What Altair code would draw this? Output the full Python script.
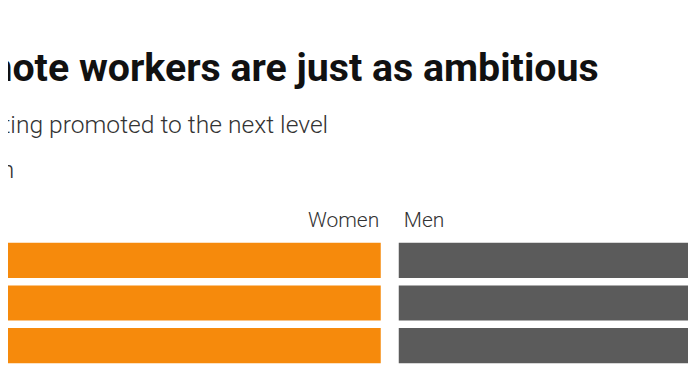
import altair as alt
import pandas as pd

# Data (bars run past both edges of the crop; values estimated)
categories = ["Fully remote", "Hybrid", "On-site"]
women_values = [72, 70, 73]
men_values = [71, 69, 72]
group_labels = ["Women", "Men"]

title_text = "Remote workers are just as ambitious"
subtitle_lines = ["On getting promoted to the next level", "Opinion"]

ORANGE = "#F68A0C"
GREY = "#5B5B5B"

bars = pd.DataFrame({
    "category": categories * 2,
    "gender": ["Women"] * 3 + ["Men"] * 3,
    "value": [-v for v in women_values] + men_values,
})
labels = pd.DataFrame({
    "gender": group_labels,
    "category": [categories[0], categories[0]],
    "zero": [0, 0],
})

x_scale = alt.Scale(domain=[-64, 50], nice=False, zero=False)
y_scale = alt.Scale(domain=categories, paddingInner=0.176, paddingOuter=0.088)

base = alt.Chart(bars).encode(
    y=alt.Y("category:N", scale=y_scale, axis=None),
)

women = base.transform_filter(alt.datum.gender == "Women").mark_bar(
    color=ORANGE, xOffset=-9, x2Offset=-9, clip=False
).encode(
    x=alt.X("value:Q", scale=x_scale, axis=None),
    x2=alt.datum(0),
)

men = base.transform_filter(alt.datum.gender == "Men").mark_bar(
    color=GREY, xOffset=9, x2Offset=9, clip=False
).encode(
    x=alt.X("value:Q", scale=x_scale, axis=None),
    x2=alt.datum(0),
)

lab_base = alt.Chart(labels).encode(
    x=alt.X("zero:Q", scale=x_scale, axis=None),
    y=alt.Y("category:N", scale=y_scale, axis=None),
    text="gender:N",
)
women_lab = lab_base.transform_filter(alt.datum.gender == "Women").mark_text(
    align="right", baseline="alphabetic", dx=-10.5, dy=-33,
    font="Roboto", fontSize=21, fontWeight=300, color="#333333",
)
men_lab = lab_base.transform_filter(alt.datum.gender == "Men").mark_text(
    align="left", baseline="alphabetic", dx=14, dy=-33,
    font="Roboto", fontSize=21, fontWeight=300, color="#333333",
)

chart = alt.layer(women, men, women_lab, men_lab).properties(
    width=680,
    height=128,
    background="white",
    autosize=alt.AutoSizeParams(type="none"),
    padding={"left": 0, "right": 0, "top": 231, "bottom": 6},
    title=alt.TitleParams(
        text=title_text,
        subtitle=subtitle_lines,
        anchor="start",
        frame="group",
        dx=-76,
        font="Roboto",
        fontSize=39.3,
        fontWeight="bold",
        color="#111111",
        subtitleFont="Roboto",
        subtitleFontSize=24.6,
        subtitleFontWeight=300,
        subtitleColor="#333333",
        subtitleLineHeight=45,
        subtitlePadding=24,
        offset=28,
    ),
).configure_view(strokeWidth=0)

chart.save("out.html", embed_options={"renderer": "svg", "actions": False})
